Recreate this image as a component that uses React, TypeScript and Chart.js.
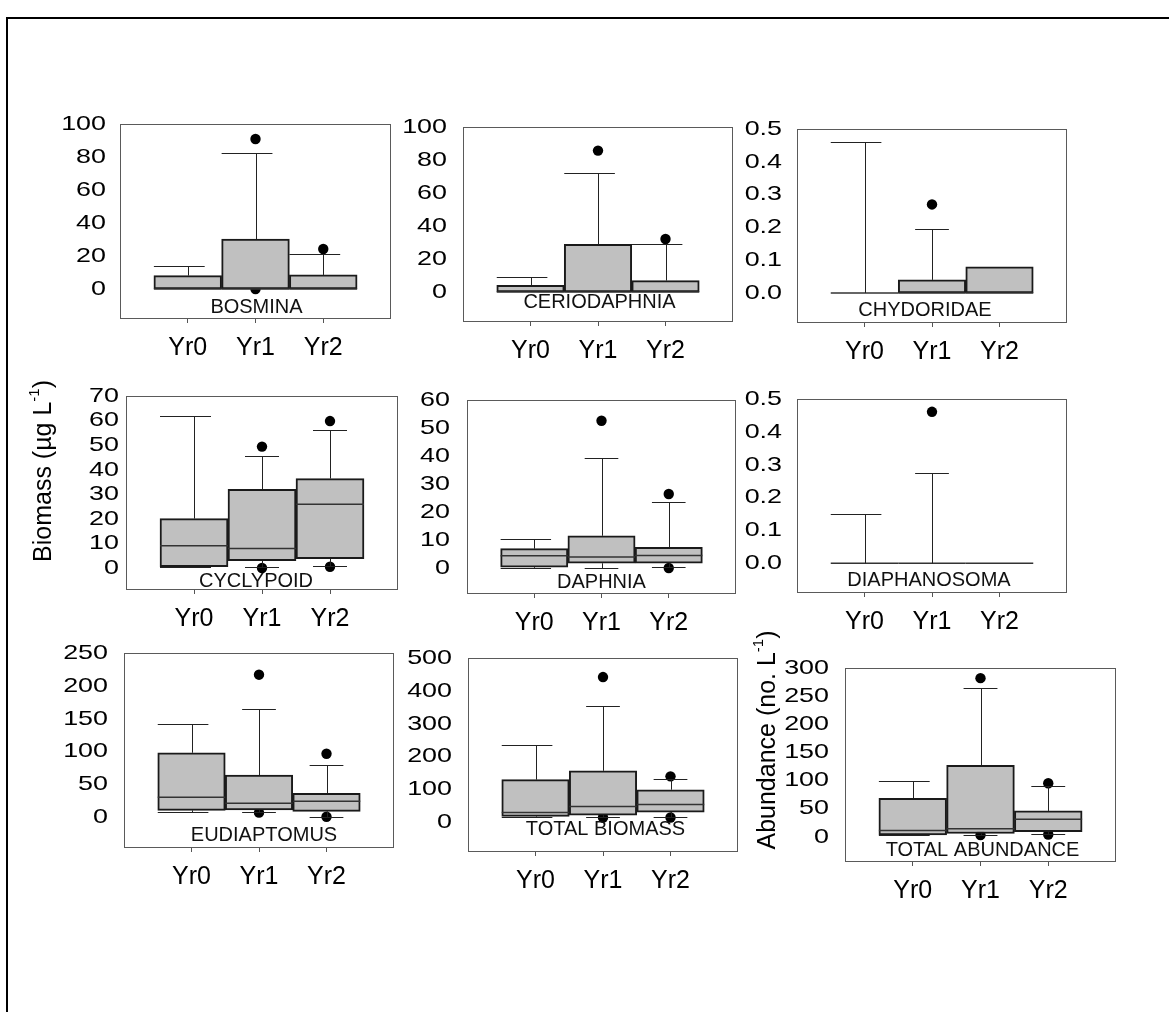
import React, { useEffect, useRef } from 'react';
import { Chart, registerables } from 'chart.js';

Chart.register(...registerables);

const FONT = "'Liberation Sans', Arial, Helvetica, sans-serif";
Chart.defaults.font.family = FONT;

const categories = ['Yr0', 'Yr1', 'Yr2'];

// Box statistics per year: [lower whisker, Q1, median, Q3, upper whisker]; null = no whisker
const bosminaStats = [[null, 0, 0, 8.1, 13.9], [null, 0, 0, 30.3, 82.6], [null, 0, 0, 8.5, 21.4]];
const bosminaOutliers = [[], [90.9, 0], [24.2]];
const bosminaTicks = [0, 20, 40, 60, 80, 100];

const ceriodaphniaStats = [[null, 0, 0, 4.0, 8.9], [null, 0, 0, 28.9, 72.1], [null, 0, 0, 6.9, 28.9]];
const ceriodaphniaOutliers = [[], [85.7], [32.1]];
const ceriodaphniaTicks = [0, 20, 40, 60, 80, 100];

const chydoridaeStats = [[null, 0, 0, 0, 0.46], [null, 0, 0, 0.04, 0.195], [null, 0, 0, 0.08, null]];
const chydoridaeOutliers = [[], [0.27], []];
const chydoridaeTicks = [0, 0.1, 0.2, 0.3, 0.4, 0.5];

const cyclopoidStats = [[0.5, 0.5, 9.1, 20.1, 61.9], [0.3, 3.0, 7.9, 32.0, 45.6], [0.8, 3.8, 25.9, 36.4, 56.2]];
const cyclopoidOutliers = [[], [49.4, 0], [59.8, 0.5]];
const cyclopoidTicks = [0, 10, 20, 30, 40, 50, 60, 70];

const daphniaStats = [[0, 0.4, 4.5, 7.0, 10.5], [0, 1.8, 4.0, 11.6, 39.2], [0.4, 1.8, 4.6, 7.5, 23.6]];
const daphniaOutliers = [[], [52.6], [26.5, 0.1]];
const daphniaTicks = [0, 10, 20, 30, 40, 50, 60];

const diaphanosomaStats = [[null, 0, 0, 0, 0.15], [null, 0, 0, 0, 0.276], [null, 0, 0, 0, null]];
const diaphanosomaOutliers = [[], [0.461], []];
const diaphanosomaTicks = [0, 0.1, 0.2, 0.3, 0.4, 0.5];

const eudiaptomusStats = [[8.1, 10.6, 30.4, 98.2, 142.7], [8.1, 11.1, 21.3, 64.3, 165.5], [0.5, 9.1, 24.3, 36.4, 79.5]];
const eudiaptomusOutliers = [[], [217, 7.1], [96.7, 0.8]];
const eudiaptomusTicks = [0, 50, 100, 150, 200, 250];

const totalBiomassStats = [[16.2, 18.3, 30.4, 130, 234], [17.2, 22.3, 48.7, 157, 355], [16.2, 31.4, 54.8, 99.4, 131.8]];
const totalBiomassOutliers = [[], [442, 15], [140, 15]];
const totalBiomassTicks = [0, 100, 200, 300, 400, 500];

const totalAbundanceStats = [[2.4, 3.5, 11.2, 68.5, 99.2], [3.5, 5.9, 14.2, 127, 264], [4.7, 8.9, 31.3, 46, 89.8]];
const totalAbundanceOutliers = [[], [282, 3], [95.1, 4]];
const totalAbundanceTicks = [0, 50, 100, 150, 200, 250, 300];

type Stat = (number | null)[];
interface AxisTitle { main: string; sup: string; tail: string; x: number; y: number }
interface PanelDef {
  name: string;
  stats: Stat[];
  outliers: number[][];
  ticks: number[];
  decimals: number;
  yMin: number;
  yMax: number;
  area: [number, number, number, number]; // plot box: left, top, right, bottom (page px)
  tickGap: number;
  nameOffset: number;
  nameDx: number;
  capLeft: number[];
  title?: AxisTitle;
}

const panels: PanelDef[] = [
  { name: 'BOSMINA', stats: bosminaStats, outliers: bosminaOutliers, ticks: bosminaTicks, decimals: 0, yMin: -18.2, yMax: 100, area: [120, 124, 391, 319], tickGap: 14, nameOffset: -11.5, nameDx: 1, capLeft: [0.5, 0.5, 0.5] },
  { name: 'CERIODAPHNIA', stats: ceriodaphniaStats, outliers: ceriodaphniaOutliers, ticks: ceriodaphniaTicks, decimals: 0, yMin: -18.2, yMax: 100, area: [463, 127, 733, 322], tickGap: 16, nameOffset: -20, nameDx: 1.5, capLeft: [0.5, 0.5, 0.5] },
  { name: 'CHYDORIDAE', stats: chydoridaeStats, outliers: chydoridaeOutliers, ticks: chydoridaeTicks, decimals: 1, yMin: -0.0915, yMax: 0.5, area: [797, 129, 1067, 323], tickGap: 15, nameOffset: -13, nameDx: -7, capLeft: [0.5, 0.25, 0.25] },
  { name: 'CYCLYPOID', stats: cyclopoidStats, outliers: cyclopoidOutliers, ticks: cyclopoidTicks, decimals: 0, yMin: -8.95, yMax: 70, area: [126, 396, 398, 590], tickGap: 7, nameOffset: -9, nameDx: -6, capLeft: [0.5, 0.25, 0.25],
    title: { main: 'Biomass (µg L', sup: '-1', tail: ')', x: 44, y: 471 } },
  { name: 'DAPHNIA', stats: daphniaStats, outliers: daphniaOutliers, ticks: daphniaTicks, decimals: 0, yMin: -9.16, yMax: 60, area: [467, 400, 736, 594], tickGap: 17, nameOffset: -12, nameDx: 0, capLeft: [0.5, 0.25, 0.25] },
  { name: 'DIAPHANOSOMA', stats: diaphanosomaStats, outliers: diaphanosomaOutliers, ticks: diaphanosomaTicks, decimals: 1, yMin: -0.0904, yMax: 0.5, area: [797, 399, 1067, 593], tickGap: 15, nameOffset: -13, nameDx: -3, capLeft: [0.5, 0.25, 0.25] },
  { name: 'EUDIAPTOMUS', stats: eudiaptomusStats, outliers: eudiaptomusOutliers, ticks: eudiaptomusTicks, decimals: 0, yMin: -46.7, yMax: 250, area: [124, 653, 394, 848], tickGap: 16, nameOffset: -13, nameDx: 5, capLeft: [0.5, 0.25, 0.25] },
  { name: 'TOTAL BIOMASS', stats: totalBiomassStats, outliers: totalBiomassOutliers, ticks: totalBiomassTicks, decimals: 0, yMin: -90, yMax: 500, area: [468, 658, 738, 852], tickGap: 16, nameOffset: -22.5, nameDx: 2.5, capLeft: [0.5, 0.25, 0.25] },
  { name: 'TOTAL ABUNDANCE', stats: totalAbundanceStats, outliers: totalAbundanceOutliers, ticks: totalAbundanceTicks, decimals: 0, yMin: -44.8, yMax: 300, area: [845, 668, 1116, 862], tickGap: 16, nameOffset: -12, nameDx: 2, capLeft: [0.5, 0.25, 0.25],
    title: { main: 'Abundance (no. L', sup: '-1', tail: ')', x: 768, y: 740 } },
];

const Y_W = 110;   // space reserved left of each plot box
const PAD_T = 50;  // space above each plot box
const PAD_R = 12;
const X_H = 60;    // space below each plot box for the year labels

function drawAxisTitle(ctx: CanvasRenderingContext2D, t: AxisTitle, cx: number, cy: number) {
  const mainFont = `25px ${FONT}`;
  const supFont = `15px ${FONT}`;
  ctx.save();
  ctx.translate(cx, cy);
  ctx.rotate(-Math.PI / 2);
  ctx.fillStyle = '#000';
  ctx.textBaseline = 'middle';
  ctx.textAlign = 'left';
  ctx.font = mainFont;
  const w1 = ctx.measureText(t.main).width;
  const w3 = ctx.measureText(t.tail).width;
  ctx.font = supFont;
  const w2 = ctx.measureText(t.sup).width;
  let x = -(w1 + w2 + w3) / 2;
  ctx.font = mainFont;
  ctx.fillText(t.main, x, 0);
  x += w1;
  ctx.font = supFont;
  ctx.fillText(t.sup, x, -9);
  x += w2;
  ctx.font = mainFont;
  ctx.fillText(t.tail, x, 0);
  ctx.restore();
}

function BoxPanel({ p }: { p: PanelDef }) {
  const ref = useRef<HTMLCanvasElement | null>(null);
  const [L, T, R, B] = p.area;
  const left = L - Y_W;
  const top = T - PAD_T;
  const width = Y_W + (R - L) + PAD_R;
  const height = PAD_T + (B - T) + X_H;

  useEffect(() => {
    const canvas = ref.current;
    if (!canvas) return;

    const boxParts = {
      id: 'boxParts',
      afterDatasetDraw(chart: any, args: any) {
        if (args.index !== 0) return;
        const { ctx } = chart;
        const xs = chart.scales.x;
        const ys = chart.scales.y;
        const line = (x1: number, y1: number, x2: number, y2: number) => {
          ctx.beginPath();
          ctx.moveTo(x1, y1);
          ctx.lineTo(x2, y2);
          ctx.stroke();
        };
        ctx.save();
        p.stats.forEach((s, i) => {
          const [lo, q1, med, q3, hi] = s as number[];
          const cx = Math.round(xs.getPixelForValue(i)) + 0.5;
          const bl = xs.getPixelForValue(i - 0.5);
          const br = xs.getPixelForValue(i + 0.5);
          const cl = xs.getPixelForValue(i - p.capLeft[i]);
          const cr = xs.getPixelForValue(i + 0.25);
          // median
          ctx.strokeStyle = '#333';
          ctx.lineWidth = 1.5;
          line(bl, ys.getPixelForValue(med), br, ys.getPixelForValue(med));
          // whiskers and caps
          ctx.strokeStyle = '#222';
          ctx.lineWidth = 1;
          if (hi !== null && hi !== undefined) {
            const yh = Math.round(ys.getPixelForValue(hi)) + 0.5;
            line(cx, ys.getPixelForValue(q3), cx, yh);
            line(cl, yh, cr, yh);
          }
          if (lo !== null && lo !== undefined) {
            const yl = Math.round(ys.getPixelForValue(lo)) + 0.5;
            line(cx, ys.getPixelForValue(q1), cx, yl);
            line(cl, yl, cr, yl);
          }
        });
        ctx.restore();
      },
      afterDraw(chart: any) {
        const { ctx, chartArea } = chart;
        const ys = chart.scales.y;
        ctx.save();
        // plot frame
        ctx.strokeStyle = '#5a5a5a';
        ctx.lineWidth = 1;
        ctx.strokeRect(chartArea.left + 0.5, chartArea.top + 0.5, chartArea.right - chartArea.left - 1, chartArea.bottom - chartArea.top - 1);
        // y tick labels
        ctx.fillStyle = '#000';
        ctx.font = `21px ${FONT}`;
        ctx.textAlign = 'right';
        ctx.textBaseline = 'middle';
        p.ticks.forEach((t) => {
          const py = ys.getPixelForValue(t);
          ctx.save();
          ctx.translate(chartArea.left - p.tickGap, py);
          ctx.scale(1.28, 1);
          ctx.fillText(t.toFixed(p.decimals), 0, 0);
          ctx.restore();
        });
        // panel name
        ctx.font = `20px ${FONT}`;
        ctx.textAlign = 'center';
        ctx.fillStyle = '#111';
        ctx.fillText(p.name, (chartArea.left + chartArea.right) / 2 + p.nameDx, chartArea.bottom + p.nameOffset);
        // axis title
        if (p.title) drawAxisTitle(ctx, p.title, p.title.x - left, p.title.y - top);
        ctx.restore();
      },
    };

    const chart = new Chart(canvas, {
      type: 'bar',
      data: {
        datasets: [
          {
            type: 'bar',
            data: p.stats.map((s, i) => ({ x: i, y: [s[1] as number, s[3] as number] })) as any,
            backgroundColor: '#c0c0c0',
            borderColor: '#1a1a1a',
            borderWidth: 2,
            borderSkipped: false,
            barPercentage: 1,
            categoryPercentage: 1,
          },
          {
            type: 'scatter',
            data: p.outliers.flatMap((arr, i) => arr.map((v) => ({ x: i, y: v }))) as any,
            pointRadius: 5.2,
            pointBackgroundColor: '#000',
            pointBorderWidth: 0,
            showLine: false,
          },
        ],
      },
      options: {
        animation: false,
        responsive: false,
        maintainAspectRatio: false,
        layout: { padding: { top: PAD_T, right: PAD_R, left: 0, bottom: 0 } },
        plugins: { legend: { display: false }, tooltip: { enabled: false } },
        scales: {
          x: {
            type: 'linear',
            min: -1,
            max: 3,
            offset: false,
            afterBuildTicks: (s: any) => {
              s.ticks = categories.map((_, i) => ({ value: i }));
            },
            afterFit: (s: any) => {
              s.height = X_H;
            },
            ticks: {
              callback: (v: any) => categories[v as number] ?? '',
              font: { size: 25, family: FONT },
              color: '#000',
              padding: 10,
              maxRotation: 0,
              autoSkip: false,
            },
            grid: { offset: false, drawOnChartArea: false, drawTicks: true, tickLength: 4, color: '#555' },
            border: { display: false },
          },
          y: {
            type: 'linear',
            min: p.yMin,
            max: p.yMax,
            afterFit: (s: any) => {
              s.width = Y_W;
            },
            ticks: { display: false },
            grid: { display: false },
            border: { display: false },
          },
        },
      } as any,
      plugins: [boxParts],
    });
    return () => chart.destroy();
  }, [p]);

  return (
    <canvas
      ref={ref}
      width={width}
      height={height}
      style={{ position: 'absolute', left, top, width, height }}
    />
  );
}

export default function App() {
  return (
    <div style={{ position: 'absolute', left: 0, top: 0, width: 1169, height: 1012, overflow: 'hidden', background: '#fff' }}>
      <div
        style={{
          position: 'absolute',
          left: 6,
          top: 17,
          right: 0,
          bottom: 0,
          borderTop: '2px solid #000',
          borderLeft: '2px solid #000',
        }}
      />
      {panels.map((p) => (
        <BoxPanel key={p.name} p={p} />
      ))}
    </div>
  );
}
